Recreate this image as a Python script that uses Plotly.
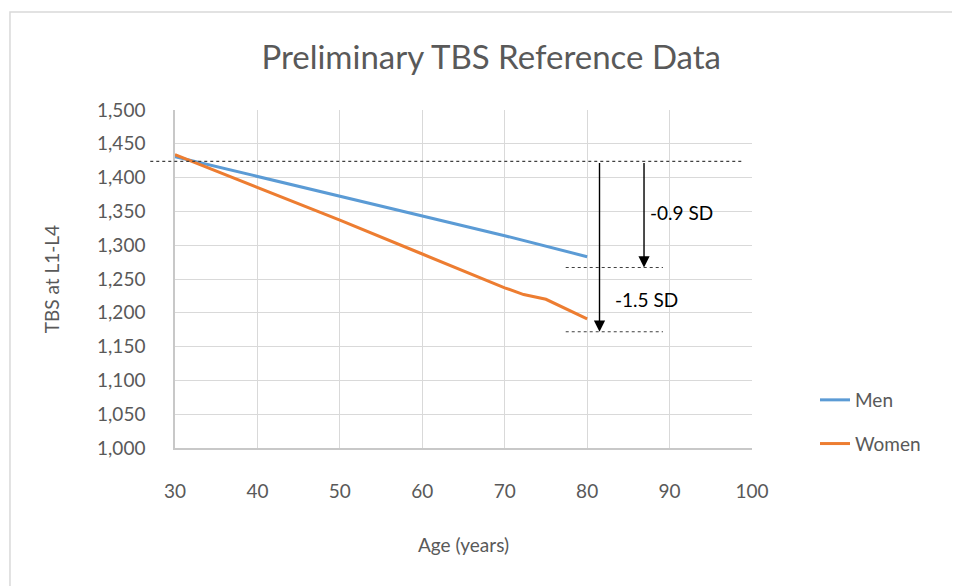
import plotly.graph_objects as go

# ---- data ----
men_age = [30, 40, 50, 60, 70, 80]
men_tbs = [1431, 1402, 1373, 1343, 1314, 1283]
women_age = [30, 40, 50, 60, 70, 72.3, 75, 80]
women_tbs = [1434, 1386, 1337, 1287, 1237, 1227, 1220, 1191]

young_ref = 1424          # dotted reference level (young adult mean)
men_sd_level = 1267       # -0.9 SD level
women_sd_level = 1172     # -1.5 SD level
label_men = "-0.9 SD"
label_women = "-1.5 SD"

x_ticks = [30, 40, 50, 60, 70, 80, 90, 100]
y_ticks = list(range(1000, 1501, 50))
y_ticklabels = [f"{v:,}" for v in y_ticks]

X_MIN, X_MAX = 30, 100

def px_from_x(xv):
    return (xv - X_MIN) / (X_MAX - X_MIN)

FONT = "Lato"
GRAY = "#595959"
GRID = "#d9d9d9"

fig = go.Figure()
fig.add_trace(go.Scatter(x=men_age, y=men_tbs, mode="lines", name="Men",
                         legendgroup="m",
                         line=dict(color="#5B9BD5", width=3)))
fig.add_trace(go.Scatter(x=women_age, y=women_tbs, mode="lines", name="Women",
                         legendgroup="w",
                         line=dict(color="#ED7D31", width=3)))

shapes = []
# outer chart border
shapes.append(dict(type="rect", xref="paper", yref="paper",
                   x0=-0.286, x1=1.40, y0=-0.45, y1=1.290,
                   line=dict(color="#d9d9d9", width=1.5), layer="below"))
# dotted reference line
shapes.append(dict(type="line", xref="paper", yref="y",
                   x0=px_from_x(27), x1=px_from_x(99),
                   y0=young_ref, y1=young_ref,
                   line=dict(color="#404040", width=1.2, dash="dot")))
for lvl in (men_sd_level, women_sd_level):
    shapes.append(dict(type="line", xref="paper", yref="y",
                       x0=px_from_x(77.4), x1=px_from_x(89.2),
                       y0=lvl, y1=lvl,
                       line=dict(color="#404040", width=1.2, dash="dot")))

annotations = []
for xa, lvl in ((86.9, men_sd_level), (81.5, women_sd_level)):
    annotations.append(dict(x=xa, y=lvl, xref="x", yref="y",
                            ax=xa, ay=young_ref, axref="x", ayref="y",
                            text="", showarrow=True, arrowhead=2,
                            arrowsize=1.6, arrowwidth=1.4, arrowcolor="#000000"))
annotations.append(dict(x=87.4, y=1349, xref="x", yref="y", text=label_men,
                        showarrow=False, xanchor="left", yanchor="middle",
                        font=dict(family=FONT, size=19, color="#000000")))
annotations.append(dict(x=83.1, y=1220, xref="x", yref="y", text=label_women,
                        showarrow=False, xanchor="left", yanchor="middle",
                        font=dict(family=FONT, size=19, color="#000000")))

fig.update_layout(
    width=960, height=586,
    margin=dict(l=167, r=216, t=102, b=146, autoexpand=False),
    paper_bgcolor="white", plot_bgcolor="white",
    title=dict(text="Preliminary TBS Reference Data", x=0.548, xref="paper",
               xanchor="center", y=1 - 49 / 586, yref="container", yanchor="middle",
               font=dict(family=FONT, size=33, color=GRAY)),
    xaxis=dict(range=[X_MIN, X_MAX], tickvals=x_ticks, showgrid=True,
               gridcolor=GRID, gridwidth=1, zeroline=False,
               showline=True, linecolor="#c8c8c8", linewidth=1.5,
               ticks="", ticklabelstandoff=25,
               tickfont=dict(family=FONT, size=19, color=GRAY),
               title=dict(text="Age (years)", standoff=38,
                          font=dict(family=FONT, size=19, color=GRAY))),
    yaxis=dict(range=[1000, 1500], tickvals=y_ticks, ticktext=y_ticklabels,
               showgrid=True, gridcolor=GRID, gridwidth=1, zeroline=False,
               showline=True, linecolor="#c8c8c8", linewidth=1.5,
               ticks="", ticklabelstandoff=24,
               tickfont=dict(family=FONT, size=19, color=GRAY),
               title=dict(text="TBS at L1-L4", standoff=32,
                          font=dict(family=FONT, size=19, color=GRAY))),
    legend=dict(x=(815 - 175) / 577, y=(448 - 381) / 338, xanchor="left",
                yanchor="top", tracegroupgap=16,
                font=dict(family=FONT, size=19, color=GRAY),
                bgcolor="rgba(0,0,0,0)"),
    shapes=shapes, annotations=annotations,
    showlegend=True,
)

fig.write_html("out.html")
